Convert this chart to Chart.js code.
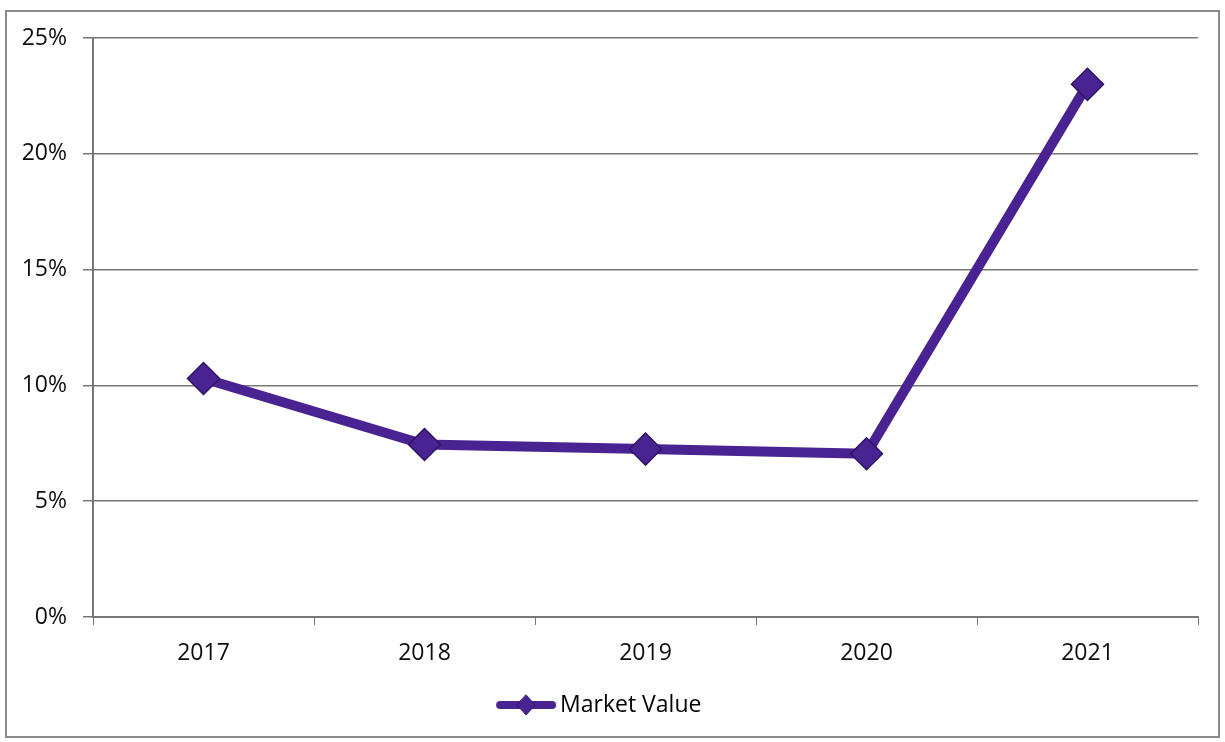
<!DOCTYPE html>
<html>
<head>
<meta charset="utf-8">
<script src="https://cdn.jsdelivr.net/npm/chart.js@4"></script>
<style>
  body { margin: 0; background: #fff; }
  #frame {
    position: absolute;
    left: 5px;
    top: 10px;
    width: 1211px;
    height: 724px;
    border: 2px solid #8a8a8a;
  }
</style>
</head>
<body>
<div id="frame"><canvas id="market_value_chart"></canvas></div>
<script>
const years = ["2017", "2018", "2019", "2020", "2021"];
const market_value = [10.3, 7.45, 7.25, 7.05, 23.0];
const y_ticks = [0, 5, 10, 15, 20, 25];

const purple = "#4a2392";
const purple_dark = "#2f1466";

// legend swatch: thick line with a diamond in the middle
const swatch = document.createElement("canvas");
swatch.width = 62;
swatch.height = 26;
{
    const c = swatch.getContext("2d");
    c.strokeStyle = purple;
    c.lineWidth = 8;
    c.lineCap = "round";
    c.beginPath();
    c.moveTo(5, 13);
    c.lineTo(57, 13);
    c.stroke();
    c.fillStyle = purple;
    c.strokeStyle = purple_dark;
    c.lineWidth = 1;
    c.beginPath();
    c.moveTo(31, 3);
    c.lineTo(40, 13);
    c.lineTo(31, 23);
    c.lineTo(22, 13);
    c.closePath();
    c.fill();
    c.stroke();
}

Chart.defaults.font.family = "'Open Sans', 'Noto Sans', sans-serif";
Chart.defaults.font.size = 23;
Chart.defaults.color = "#0d0d0d";

const market_value_chart = new Chart("market_value_chart",
{
    type: "line",
    data:
    {
        labels: years,
        datasets:
        [
            {
                label: "Market Value",
                data: market_value,
                fill: false,
                borderColor: purple,
                backgroundColor: purple,
                borderWidth: 10,
                borderJoinStyle: "round",
                tension: 0,
                pointStyle: "rectRot",
                pointRadius: 16,
                pointBackgroundColor: purple,
                pointBorderColor: purple_dark,
                pointBorderWidth: 1.5
            }
        ]
    },
    options:
    {
        animation: false,
        responsive: true,
        maintainAspectRatio: false,
        layout:
        {
            padding: { left: 0, right: 20, top: 26, bottom: 9.5 }
        },
        plugins:
        {
            tooltip: { enabled: false },
            legend:
            {
                display: true,
                position: "bottom",
                labels:
                {
                    usePointStyle: true,
                    // narrower than the swatch so the text sits right against it
                    pointStyleWidth: 45,
                    padding: 10,
                    color: "#0d0d0d",
                    generateLabels: (chart) => chart.data.datasets.map((ds, i) => ({
                        text: ds.label,
                        pointStyle: swatch,
                        fillStyle: purple,
                        strokeStyle: purple,
                        lineWidth: 0,
                        datasetIndex: i
                    }))
                }
            }
        },
        scales:
        {
            x:
            {
                offset: true,
                afterFit: (scale) => { scale.height = 66.5; },
                grid:
                {
                    offset: true,
                    drawOnChartArea: false,
                    drawTicks: true,
                    tickLength: 8,
                    color: "#777"
                },
                border: { display: true, color: "#777", width: 2 },
                ticks: { padding: 15 }
            },
            y:
            {
                min: 0,
                max: 25,
                afterFit: (scale) => {
                    scale.width = 86;
                    // label padding otherwise pushes the top of the plot down
                    scale.paddingTop = 14;
                },
                afterBuildTicks: (scale) => { scale.ticks = y_ticks.map(v => ({ value: v })); },
                grid:
                {
                    color: "#777",
                    lineWidth: 1.5,
                    tickLength: 10
                },
                border: { display: true, color: "#777", width: 2 },
                ticks:
                {
                    padding: 16,
                    callback: (v) => v + "%"
                }
            }
        }
    }
});
</script>
</body>
</html>
